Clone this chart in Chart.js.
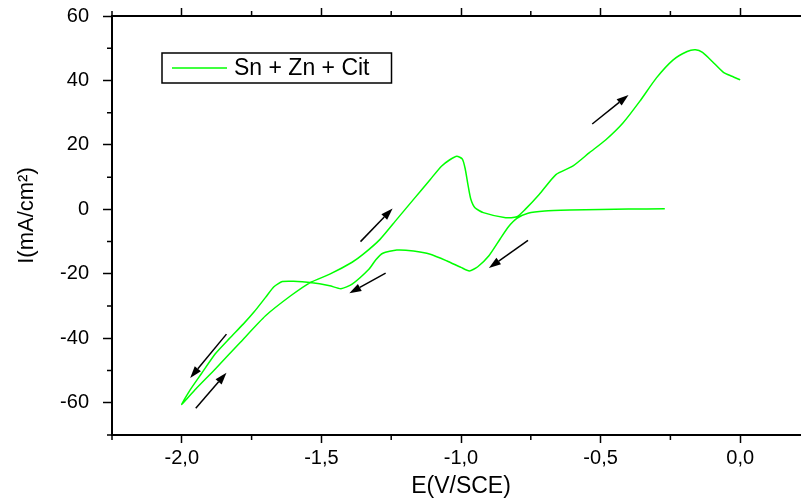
<!DOCTYPE html>
<html>
<head>
<meta charset="utf-8">
<script src="https://cdn.jsdelivr.net/npm/chart.js@4.4.0/dist/chart.umd.min.js"></script>
<style>
  html, body { margin: 0; padding: 0; background: #fff; overflow: hidden; }
  #wrap { width: 820px; height: 500px; }
</style>
</head>
<body>
<div id="wrap"><canvas id="cv" width="820" height="500"></canvas></div>
<script>
const seriesLabel = 'Sn + Zn + Cit';
const xTitle = 'E(V/SCE)';
const yTitle = 'I(mA/cm²)';

// cathodic sweep: from -0.27 V down to -2.0 V
const cathodicE = [-0.27, -0.40, -0.50, -0.61, -0.70, -0.76, -0.80, -0.83, -0.86, -0.90,
  -0.94, -0.97, -1.00, -1.05, -1.11, -1.17, -1.23, -1.28, -1.305, -1.33, -1.39,
  -1.43, -1.47, -1.54, -1.60, -1.64, -1.67, -1.70, -1.74, -1.78, -1.83,
  -1.88, -1.93, -1.97, -2.00];
const cathodicI = [0.2, 0.1, 0.0, -0.2, -0.5, -1.2, -2.8, -5.4, -9.2, -14.4,
  -17.8, -19.1, -18.0, -16.0, -13.9, -12.9, -12.6, -13.6, -15.6, -18.6, -23.2,
  -24.6, -23.7, -22.7, -22.3, -22.4, -24.0, -27.3, -31.7, -35.6, -40.1,
  -44.8, -51.0, -56.0, -60.5];

// anodic sweep: back from -2.0 V to 0.0 V
const anodicE = [-1.95, -1.88, -1.79, -1.70, -1.61, -1.54, -1.47, -1.39, -1.35, -1.29,
  -1.23, -1.17, -1.11, -1.07, -1.04, -1.015, -0.995, -0.985, -0.975, -0.965, -0.95, -0.92,
  -0.84, -0.80, -0.77, -0.72, -0.66, -0.60, -0.54, -0.48, -0.42,
  -0.36, -0.30, -0.24, -0.19, -0.16, -0.135, -0.10, -0.06, -0.03, 0.00];
const anodicI = [-55.7, -49.5, -41.2, -33.0, -26.8, -22.7, -20.1, -16.4, -13.9, -9.3,
  -3.1, 3.1, 9.3, 13.4, 15.4, 16.5, 15.6, 12.6, 7.6, 3.2, 0.5, -1.0,
  -2.6, -2.3, 0.0, 4.6, 10.8, 13.4, 17.6, 21.7, 26.8,
  33.5, 40.8, 46.4, 49.0, 49.5, 48.7, 45.9, 42.5, 41.3, 40.2];

const xTickLabels = [-2.0, -1.5, -1.0, -0.5, 0.0];
const yTickLabels = [-60, -40, -20, 0, 20, 40, 60];

// sweep direction arrows: [E from, I from, E to, I to]
const arrows = [
  [-1.84, -38.7, -1.97, -52.3],
  [-1.95, -61.7, -1.84, -50.7],
  [-1.27, -19.8, -1.40, -26.0],
  [-1.36, -10.0, -1.245, 0.3],
  [-0.76, -9.6, -0.90, -18.2],
  [-0.53, 26.5, -0.40, 35.5]
];

const lineColor = '#00ff00';
const FONT = '"Liberation Sans", Arial, sans-serif';

const points = [];
cathodicE.forEach((e, i) => points.push({ x: e, y: cathodicI[i] }));
anodicE.forEach((e, i) => points.push({ x: e, y: anodicI[i] }));

const isLabelled = (list, v) => list.some(t => Math.abs(t - v) < 1e-6);
const fmt = v => (Math.abs(v) < 1e-9 ? 0 : v).toFixed(1).replace('.', ',');

// short ticks between the labelled ones
const minorTicks = {
  id: 'minorTicks',
  afterDraw(chart) {
    const { ctx, chartArea: a, scales } = chart;
    ctx.save();
    ctx.strokeStyle = '#000';
    ctx.lineWidth = 1.5;
    ctx.beginPath();
    scales.x.ticks.forEach(t => {
      if (isLabelled(xTickLabels, t.value)) return;
      const px = scales.x.getPixelForValue(t.value);
      ctx.moveTo(px, a.bottom); ctx.lineTo(px, a.bottom + 5);
      ctx.moveTo(px, a.top); ctx.lineTo(px, a.top - 5);
    });
    scales.y.ticks.forEach(t => {
      if (isLabelled(yTickLabels, t.value)) return;
      const py = scales.y.getPixelForValue(t.value);
      ctx.moveTo(a.left, py); ctx.lineTo(a.left - 5, py);
    });
    ctx.stroke();
    ctx.restore();
  }
};

const arrowMarks = {
  id: 'arrowMarks',
  afterDatasetsDraw(chart) {
    const { ctx, scales: { x, y } } = chart;
    ctx.save();
    ctx.strokeStyle = '#000';
    ctx.fillStyle = '#000';
    ctx.lineWidth = 1.5;
    arrows.forEach(([e1, i1, e2, i2]) => {
      const x1 = x.getPixelForValue(e1), y1 = y.getPixelForValue(i1);
      const x2 = x.getPixelForValue(e2), y2 = y.getPixelForValue(i2);
      const ang = Math.atan2(y2 - y1, x2 - x1);
      const head = 12, half = 4;
      const bx = x2 - head * Math.cos(ang), by = y2 - head * Math.sin(ang);
      ctx.beginPath();
      ctx.moveTo(x1, y1); ctx.lineTo(bx, by);
      ctx.stroke();
      ctx.beginPath();
      ctx.moveTo(x2, y2);
      ctx.lineTo(bx + half * Math.sin(ang), by - half * Math.cos(ang));
      ctx.lineTo(bx - half * Math.sin(ang), by + half * Math.cos(ang));
      ctx.closePath();
      ctx.fill();
    });
    ctx.restore();
  }
};

// boxed legend inside the plot and the vertical axis title
const legendBox = {
  id: 'legendBox',
  afterDraw(chart) {
    const { ctx, chartArea: a } = chart;
    ctx.save();
    ctx.font = '23px ' + FONT;
    const left = a.left + 50, top = a.top + 37, h = 30;
    const sample = 55, pad = 10, gap = 7;
    const w = pad + sample + gap + ctx.measureText(seriesLabel).width + 22;
    ctx.fillStyle = '#fff';
    ctx.fillRect(left, top, w, h);
    ctx.strokeStyle = '#000';
    ctx.lineWidth = 1.5;
    ctx.strokeRect(left, top, w, h);
    ctx.strokeStyle = lineColor;
    ctx.beginPath();
    ctx.moveTo(left + pad, top + h / 2);
    ctx.lineTo(left + pad + sample, top + h / 2);
    ctx.stroke();
    ctx.fillStyle = '#000';
    ctx.textBaseline = 'middle';
    ctx.fillText(seriesLabel, left + pad + sample + gap, top + h / 2 + 1);

    ctx.font = '22px ' + FONT;
    ctx.textAlign = 'center';
    ctx.translate(27, (a.top + a.bottom) / 2 - 10);
    ctx.rotate(-Math.PI / 2);
    ctx.fillText(yTitle, 0, 0);
    ctx.restore();
  }
};

const tickColor = list => c => isLabelled(list, c.tick.value) ? '#000' : 'rgba(0,0,0,0)';

new Chart(document.getElementById('cv'), {
  type: 'scatter',
  data: {
    datasets: [{
      label: seriesLabel,
      data: points,
      showLine: true,
      borderColor: lineColor,
      borderWidth: 1.5,
      pointRadius: 0,
      tension: 0.2,
      fill: false
    }]
  },
  options: {
    responsive: false,
    animation: false,
    layout: { padding: 0 },
    plugins: { legend: { display: false }, tooltip: { enabled: false } },
    scales: {
      x: {
        type: 'linear', position: 'bottom', min: -2.25, max: 0.25,
        afterFit: s => { s.height = 65; s.paddingLeft = 0; s.paddingRight = 0; },
        ticks: {
          stepSize: 0.25, autoSkip: false, maxRotation: 0, padding: 3, color: '#000',
          font: { family: FONT, size: 20 },
          callback: v => isLabelled(xTickLabels, v) ? fmt(v) : ''
        },
        grid: { drawOnChartArea: false, tickLength: 8, tickWidth: 1.5, tickColor: tickColor(xTickLabels) },
        border: { color: '#000', width: 2 },
        title: { display: true, text: xTitle, color: '#000', font: { family: FONT, size: 23 }, padding: { top: 0, bottom: 0 } }
      },
      x2: {
        type: 'linear', position: 'top', min: -2.25, max: 0.25,
        afterFit: s => { s.height = 16; s.paddingLeft = 0; s.paddingRight = 0; },
        ticks: { stepSize: 0.25, display: false },
        grid: { drawOnChartArea: false, tickLength: 8, tickWidth: 1.5, tickColor: tickColor(xTickLabels) },
        border: { color: '#000', width: 2 }
      },
      y: {
        type: 'linear', position: 'left', min: -70, max: 60,
        afterFit: s => { s.width = 112; s.paddingTop = 0; s.paddingBottom = 0; },
        ticks: {
          stepSize: 10, autoSkip: false, padding: 14, color: '#000',
          font: { family: FONT, size: 20 },
          callback: v => isLabelled(yTickLabels, v) ? String(v) : ''
        },
        grid: { drawOnChartArea: false, tickLength: 9, tickWidth: 1.5, tickColor: tickColor(yTickLabels) },
        border: { color: '#000', width: 2 }
      },
      y2: {
        type: 'linear', position: 'right', min: -70, max: 60,
        afterFit: s => { s.width = 10; s.paddingTop = 0; s.paddingBottom = 0; },
        ticks: { display: false },
        grid: { drawOnChartArea: false, drawTicks: false },
        border: { color: '#000', width: 2 }
      }
    }
  },
  plugins: [minorTicks, arrowMarks, legendBox]
});
</script>
</body>
</html>
